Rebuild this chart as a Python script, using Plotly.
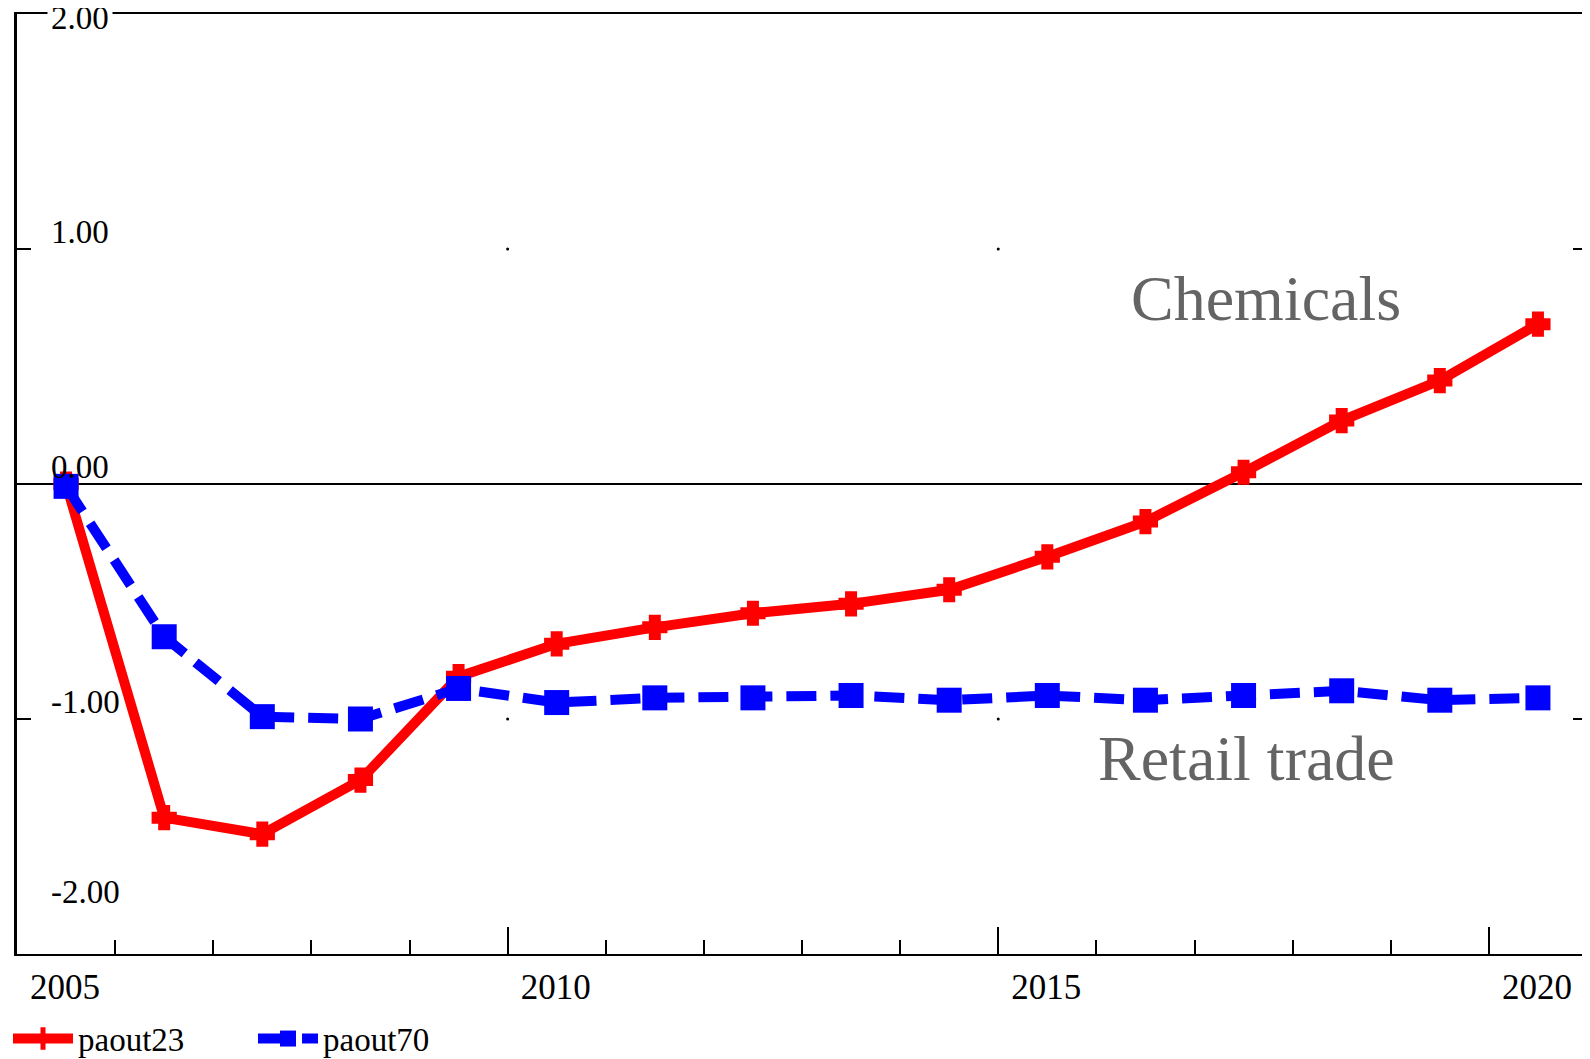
import plotly.graph_objects as go

years = [2005.5, 2006.5, 2007.5, 2008.5, 2009.5, 2010.5, 2011.5, 2012.5,
         2013.5, 2014.5, 2015.5, 2016.5, 2017.5, 2018.5, 2019.5, 2020.5]
paout23 = [0.0, -1.42, -1.49, -1.26, -0.82, -0.68, -0.61, -0.55,
           -0.51, -0.45, -0.31, -0.16, 0.05, 0.27, 0.44, 0.68]
paout70 = [-0.01, -0.65, -0.99, -1.00, -0.87, -0.93, -0.91, -0.91,
           -0.90, -0.92, -0.90, -0.92, -0.90, -0.88, -0.92, -0.91]

x_major = [2005, 2010, 2015, 2020]
x_labels = ["2005", "2010", "2015", "2020"]
y_ticks = [2, 1, 0, -1, -2]
y_labels = ["2.00", "1.00", "0.00", "-1.00", "-2.00"]
grid_x = [2010, 2015]
grid_y = [1, -1]

FONT = "Liberation Serif, Times New Roman, serif"
FS = 34

fig = go.Figure()
fig.add_trace(go.Scatter(
    x=years, y=paout23, name="paout23", mode="lines+markers",
    line=dict(color="#ff0000", width=10),
    marker=dict(symbol="cross-thin", size=18, color="#ff0000",
                line=dict(color="#ff0000", width=12)),
))
fig.add_trace(go.Scatter(
    x=years, y=paout70, name="paout70", mode="lines+markers",
    line=dict(color="#0000ff", width=10, dash="30px,14px"),
    marker=dict(symbol="square", size=25, color="#0000ff", line=dict(width=0)),
))
gx = [x for x in grid_x for _ in grid_y]
gy = [y for _ in grid_x for y in grid_y]
fig.add_trace(go.Scatter(x=gx, y=gy, mode="markers", showlegend=False,
                         hoverinfo="skip",
                         marker=dict(size=3, color="black")))

y_shift = [-4, 17, 17, 17, 62]
for v, lab, s in zip(y_ticks, y_labels, y_shift):
    fig.add_annotation(x=0, xref="paper", y=v, yref="y", text=lab,
                       showarrow=False, xanchor="left", yanchor="middle",
                       xshift=30, yshift=s,
                       font=dict(family=FONT, size=FS - 1, color="black"),
                       bgcolor="white" if v == 2 else None, borderpad=3)

fig.add_annotation(x=2017.73, y=0.79, text="Chemicals", showarrow=False,
                   font=dict(family=FONT, size=64, color="#646464"))
fig.add_annotation(x=2017.53, y=-1.17, text="Retail trade", showarrow=False,
                   font=dict(family=FONT, size=64, color="#646464"))

# page body has an 8px margin: size the figure to fit the 1590x1059 window
fig.update_layout(
    width=1582, height=1051,
    margin=dict(l=9, r=3, t=6, b=105, autoexpand=False),
    paper_bgcolor="white", plot_bgcolor="white",
    font=dict(family=FONT, size=FS, color="black"),
    showlegend=True,
    legend=dict(orientation="h", x=0.0, xref="container", xanchor="left",
                y=-0.09, yref="paper", yanchor="middle",
                font=dict(family=FONT, size=FS - 1), bgcolor="rgba(0,0,0,0)",
                entrywidth=170, itemwidth=60),
    xaxis=dict(range=[2005, 2021], showgrid=False, zeroline=False,
               automargin=False,
               showline=True, linecolor="black", linewidth=2, mirror=True,
               tickmode="array", tickvals=x_major, ticktext=x_labels,
               ticks="inside", ticklen=27, tickwidth=2, tickcolor="black",
               ticklabelshift=48, ticklabelstandoff=1,
               minor=dict(dtick=1, tick0=2005, ticks="inside", ticklen=14,
                          tickwidth=2, tickcolor="black", showgrid=False),
               tickfont=dict(family=FONT, size=FS + 1)),
    yaxis=dict(range=[-2, 2], showgrid=False, zeroline=True,
               automargin=False,
               zerolinecolor="black", zerolinewidth=1.5,
               showline=True, linecolor="black", linewidth=3, mirror="ticks",
               tickmode="array", tickvals=y_ticks, ticks="inside",
               ticklen=14, tickwidth=2, tickcolor="black",
               showticklabels=False),
)

fig.write_html("out.html")
